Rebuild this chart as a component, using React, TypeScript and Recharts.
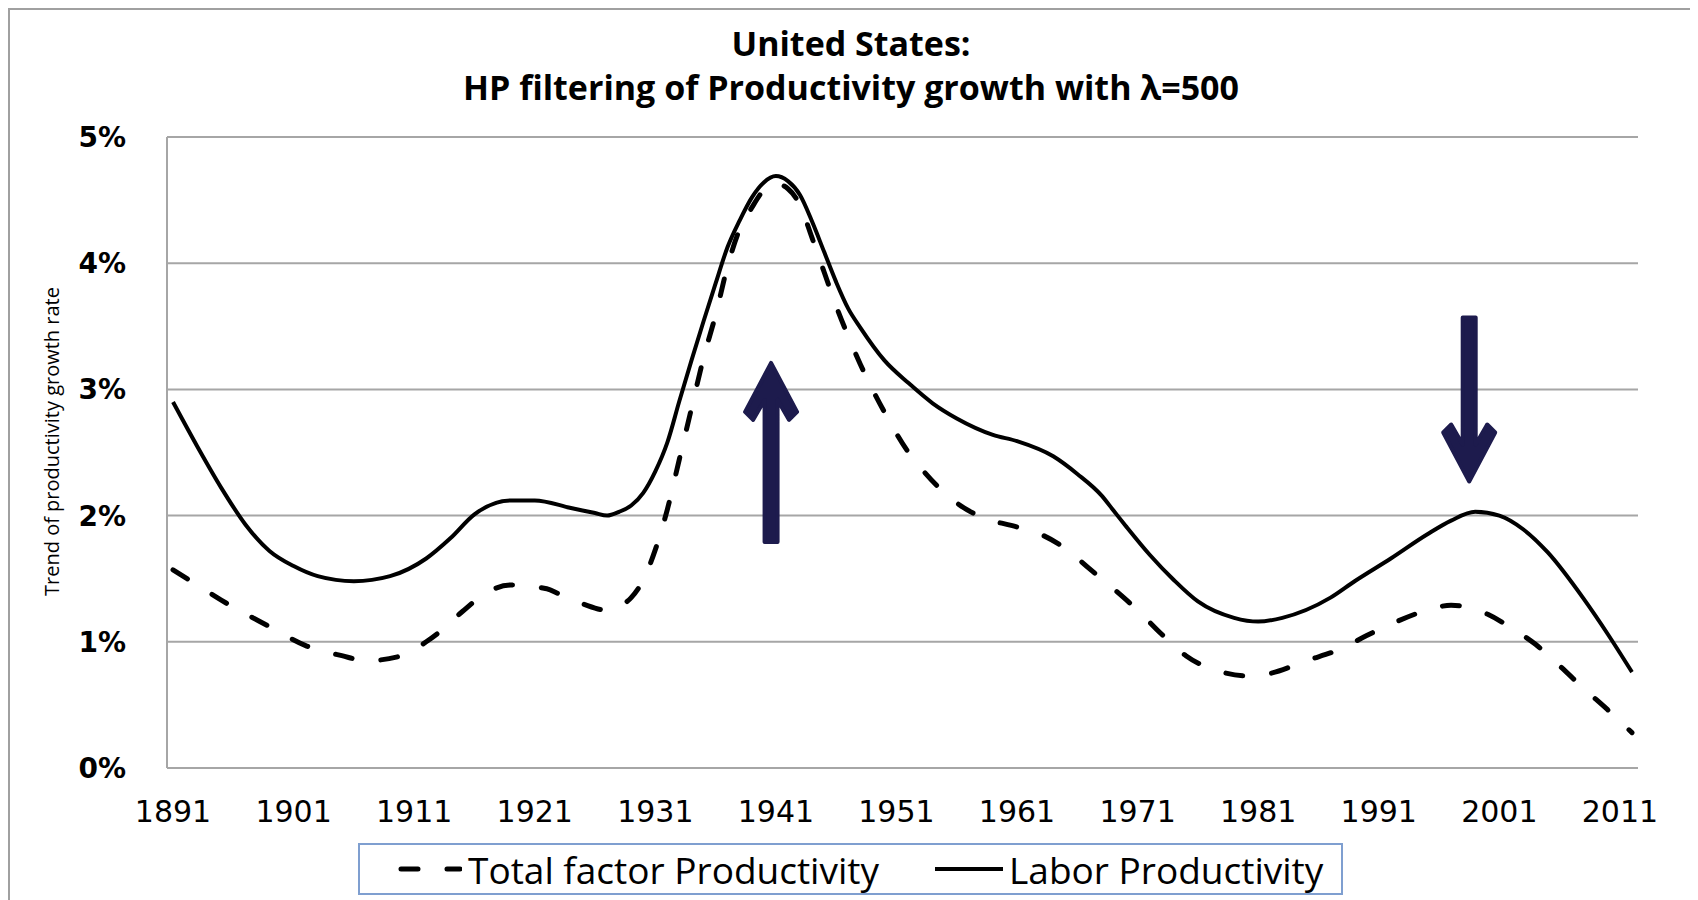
import { LineChart, Line, XAxis, YAxis, CartesianGrid, ReferenceLine } from 'recharts';

const laborYears = [1891, 1893, 1895, 1897, 1899, 1901, 1903, 1906, 1909, 1912, 1914, 1916, 1919, 1921, 1924, 1926, 1927, 1928, 1929, 1930, 1931, 1932, 1933, 1934, 1935, 1936, 1937, 1938, 1939, 1940, 1941, 1942, 1943, 1944, 1945, 1946, 1947, 1948, 1950, 1952, 1954, 1956, 1959, 1961, 1964, 1966, 1968, 1969, 1970, 1972, 1974, 1976, 1979, 1981, 1983, 1987, 1989, 1992, 1995, 1997, 1999, 2001, 2003, 2005, 2008, 2010, 2012];
const laborValues = [2.9, 2.55, 2.22, 1.93, 1.72, 1.6, 1.52, 1.48, 1.52, 1.66, 1.82, 2.01, 2.12, 2.12, 2.06, 2.02, 2.0, 2.03, 2.08, 2.18, 2.35, 2.58, 2.91, 3.23, 3.54, 3.84, 4.13, 4.34, 4.52, 4.64, 4.69, 4.65, 4.54, 4.33, 4.09, 3.85, 3.64, 3.49, 3.23, 3.05, 2.89, 2.77, 2.64, 2.59, 2.47, 2.33, 2.16, 2.04, 1.92, 1.69, 1.49, 1.32, 1.19, 1.16, 1.19, 1.35, 1.48, 1.66, 1.85, 1.96, 2.03, 2.0, 1.89, 1.71, 1.34, 1.06, 0.76];

const tfpYears = [1891, 1893, 1895, 1899, 1902, 1905, 1907, 1910, 1912, 1913, 1915, 1917, 1919, 1922, 1923, 1925, 1927, 1928, 1929, 1930, 1931, 1932, 1933, 1934, 1935, 1936, 1937, 1938, 1939, 1940, 1941, 1942, 1943, 1944, 1945, 1946, 1947, 1948, 1950, 1952, 1953, 1956, 1958, 1961, 1963, 1965, 1967, 1969, 1971, 1973, 1975, 1978, 1980, 1982, 1985, 1988, 1990, 1992, 1995, 1997, 1999, 2000, 2002, 2004, 2006, 2008, 2010, 2012];
const tfpValues = [1.57, 1.45, 1.33, 1.12, 0.97, 0.89, 0.85, 0.89, 1.0, 1.07, 1.24, 1.39, 1.45, 1.42, 1.38, 1.3, 1.25, 1.28, 1.35, 1.49, 1.73, 2.05, 2.45, 2.85, 3.25, 3.59, 3.98, 4.27, 4.44, 4.58, 4.63, 4.59, 4.46, 4.2, 3.93, 3.66, 3.42, 3.2, 2.82, 2.5, 2.38, 2.1, 1.99, 1.91, 1.85, 1.74, 1.58, 1.42, 1.25, 1.06, 0.89, 0.76, 0.73, 0.75, 0.85, 0.95, 1.05, 1.14, 1.25, 1.29, 1.26, 1.22, 1.11, 0.98, 0.81, 0.63, 0.46, 0.28];

const yearTicks = [1891, 1901, 1911, 1921, 1931, 1941, 1951, 1961, 1971, 1981, 1991, 2001, 2011];
const pctTicks = [0, 1, 2, 3, 4, 5];

// arrows: [base, tip]
const arrowUp = [{ x: 1940.6, y: 1.79 }, { x: 1940.6, y: 3.21 }];
const arrowDown = [{ x: 1998.5, y: 3.57 }, { x: 1998.5, y: 2.27 }];

const labor = laborYears.map((year, i) => ({ year, value: laborValues[i] }));
const tfp = tfpYears.map((year, i) => ({ year, value: tfpValues[i] }));

const ARROW = '#1d1b4d';

function Arrow(props: any) {
  const { x1, y1, x2, y2 } = props;
  if (x1 == null || y2 == null) return null;
  const u = y1 > y2 ? 1 : -1;
  const pts = [
    [x2, y2],
    [x2 + 26, y2 + u * 49],
    [x2 + 18, y2 + u * 57],
    [x2 + 6.5, y2 + u * 37],
    [x2 + 6.5, y1],
    [x2 - 6.5, y1],
    [x2 - 6.5, y2 + u * 37],
    [x2 - 18, y2 + u * 57],
    [x2 - 26, y2 + u * 49],
  ];
  return (
    <polygon
      points={pts.map((p) => p.join(',')).join(' ')}
      fill={ARROW}
      stroke={ARROW}
      strokeWidth={4}
      strokeLinejoin="round"
    />
  );
}

function YLabel(props: any) {
  const vb = props.viewBox || {};
  const cy = (vb.y ?? 127) + (vb.height ?? 631) / 2 - 11;
  return (
    <text
      x={41}
      y={cy}
      transform={`rotate(-90 41 ${cy})`}
      textAnchor="middle"
      dominantBaseline="central"
      fontFamily="'Open Sans', sans-serif"
      fontSize={20}
      fill="#000"
    >
      Trend of productivity  growth rate
    </text>
  );
}

export default function App() {
  return (
    <div
      style={{
        position: 'relative',
        width: 1686,
        height: 892,
        border: '2px solid #a0a0a0',
        borderBottom: 'none',
        background: '#fff',
        fontFamily: "'Open Sans', sans-serif",
      }}
    >
      <div
        style={{
          position: 'absolute',
          top: 11,
          left: 0,
          width: 1682,
          textAlign: 'center',
          fontWeight: 700,
          fontSize: 34,
          lineHeight: '44px',
          color: '#000',
        }}
      >
        <div>United States:</div>
        <div>HP filtering of Productivity growth with λ=500</div>
      </div>

      <LineChart width={1686} height={890} margin={{ top: 127, right: 58, bottom: 0, left: 0 }}>
        <CartesianGrid vertical={false} stroke="#a6a6a6" strokeWidth={2} />
        <XAxis
          dataKey="year"
          type="number"
          domain={[1890.5, 2012.5]}
          ticks={yearTicks}
          allowDataOverflow
          height={132}
          tickLine={false}
          tickSize={0}
          tickMargin={33}
          axisLine={{ stroke: '#a6a6a6', strokeWidth: 2 }}
          tick={{ fontFamily: 'DejaVu Sans', fontSize: 30, fill: '#000' }}
        />
        <YAxis
          dataKey="value"
          type="number"
          domain={[0, 5]}
          ticks={pctTicks}
          width={157}
          tickLine={false}
          tickSize={0}
          tickMargin={41}
          tickFormatter={(v) => `${v}%`}
          axisLine={{ stroke: '#a6a6a6', strokeWidth: 2 }}
          tick={{ fontFamily: 'DejaVu Sans', fontWeight: 700, fontSize: 28, fill: '#000' }}
          label={<YLabel />}
        />
        <Line
          data={tfp}
          dataKey="value"
          type="monotone"
          stroke="#000"
          strokeWidth={5}
          strokeDasharray="17 29"
          strokeLinecap="round"
          dot={false}
          isAnimationActive={false}
        />
        <Line
          data={labor}
          dataKey="value"
          type="monotone"
          stroke="#000"
          strokeWidth={4}
          dot={false}
          isAnimationActive={false}
        />
        <ReferenceLine segment={arrowUp} shape={<Arrow />} ifOverflow="visible" />
        <ReferenceLine segment={arrowDown} shape={<Arrow />} ifOverflow="visible" />
      </LineChart>

      <div
        style={{
          position: 'absolute',
          left: 348,
          top: 833,
          width: 985,
          height: 52,
          boxSizing: 'border-box',
          border: '2px solid #7f9fd0',
          display: 'flex',
          alignItems: 'center',
          paddingLeft: 38,
          fontSize: 37,
          color: '#000',
          whiteSpace: 'nowrap',
        }}
      >
        <svg width={64} height={20} style={{ marginRight: 6 }}>
          <line x1={3} y1={10} x2={62} y2={10} stroke="#000" strokeWidth={5} strokeDasharray="17 29" strokeLinecap="round" />
        </svg>
        <span>Total factor Productivity</span>
        <svg width={68} height={20} style={{ marginLeft: 56, marginRight: 6 }}>
          <line x1={0} y1={10} x2={68} y2={10} stroke="#000" strokeWidth={4} />
        </svg>
        <span>Labor Productivity</span>
      </div>
    </div>
  );
}
